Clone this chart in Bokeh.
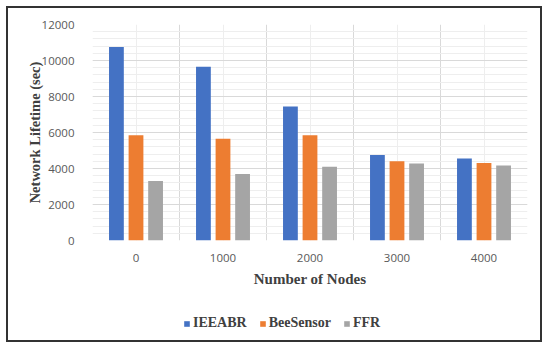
from bokeh.plotting import figure
from bokeh.models import (ColumnDataSource, Range1d, FixedTicker, SingleIntervalTicker,
                          Legend, LegendItem, Column)
from bokeh.transform import dodge
from bokeh.embed import file_html
from bokeh.resources import INLINE

nodes = ["0", "1000", "2000", "3000", "4000"]
ieeabr = [10750, 9650, 7450, 4750, 4550]
beesensor = [5850, 5650, 5850, 4400, 4300]
ffr = [3300, 3700, 4100, 4280, 4170]
series_names = ["IEEABR", "BeeSensor", "FFR"]
colors = ["#4472C4", "#ED7D31", "#A5A5A5"]

pos = list(range(len(nodes)))
source = ColumnDataSource(dict(pos=pos, IEEABR=ieeabr, BeeSensor=beesensor, FFR=ffr))

p = figure(width=532, height=290, output_backend="svg", toolbar_location=None,
           x_range=Range1d(-0.5, len(nodes) - 0.5), y_range=Range1d(0, 12000),
           min_border_left=84, min_border_right=13, min_border_top=16, min_border_bottom=58)
p.outline_line_color = None
p.background_fill_color = "white"
p.border_fill_color = "white"

offsets = [-0.225, 0.0, 0.225]
for name, col, off in zip(series_names, colors, offsets):
    p.vbar(x=dodge("pos", off), top=name, width=0.17, source=source,
           fill_color=col, line_color=None)

# axes
p.xaxis.ticker = FixedTicker(ticks=pos)
p.xaxis.major_label_overrides = {i: n for i, n in enumerate(nodes)}
p.yaxis.ticker = SingleIntervalTicker(interval=2000, num_minor_ticks=5)
for ax in (p.xaxis, p.yaxis):
    ax.axis_line_color = None
    ax.major_tick_line_color = None
    ax.minor_tick_line_color = None
    ax.major_label_text_font = "Open Sans"
    ax.major_label_text_font_size = "11.5px"
    ax.major_label_text_color = "#595959"
    ax.axis_label_text_font = "Liberation Serif"
    ax.axis_label_text_font_style = "bold"
    ax.axis_label_text_color = "#404040"
p.yaxis.major_label_standoff = 12
p.xaxis.major_label_standoff = 7
p.xaxis.axis_label = "Number of Nodes"
p.xaxis.axis_label_text_font_size = "15px"
p.xaxis.axis_label_standoff = 6
p.yaxis.axis_label = "Network Lifetime (sec)"
p.yaxis.axis_label_text_font_size = "14.5px"
p.yaxis.axis_label_standoff = -4

# grids
p.xgrid.ticker = FixedTicker(ticks=[i - 0.5 for i in range(len(nodes) + 1)], minor_ticks=pos)
p.xgrid.grid_line_color = "#D9D9D9"
p.xgrid.minor_grid_line_color = "#EEEEEE"
p.ygrid.grid_line_color = "#D9D9D9"
p.ygrid.minor_grid_line_color = "#EEEEEE"

# legend strip (hidden proxy bars, shown only as legend swatches)
p2 = figure(width=532, height=42, output_backend="svg", toolbar_location=None,
            x_range=Range1d(-0.5, len(nodes) - 0.5), y_range=Range1d(0, 12000),
            x_axis_location=None, y_axis_location=None,
            min_border_left=0, min_border_right=0, min_border_top=0, min_border_bottom=0)
p2.grid.visible = False
p2.outline_line_color = None
p2.background_fill_color = "white"
p2.border_fill_color = "white"
proxies = [p2.vbar(x="pos", top=name, width=0.17, source=source,
                   fill_color=c, line_color=None, visible=False)
           for name, c in zip(series_names, colors)]
legend = Legend(items=[LegendItem(label=n, renderers=[r]) for n, r in zip(series_names, proxies)],
                orientation="horizontal", location=(91, 9),
                glyph_width=7, glyph_height=7, label_standoff=3, spacing=12,
                padding=0, margin=0, border_line_color=None, background_fill_alpha=0,
                inactive_fill_alpha=0,
                label_text_font="Liberation Serif", label_text_font_style="bold",
                label_text_font_size="14px", label_text_color="#404040")
p2.add_layout(legend, "center")

layout = Column(children=[p, p2], spacing=0,
                styles={"border": "2px solid #333333", "margin-left": "6px", "margin-top": "6px"})

open("out.html", "w").write(file_html(layout, INLINE))
